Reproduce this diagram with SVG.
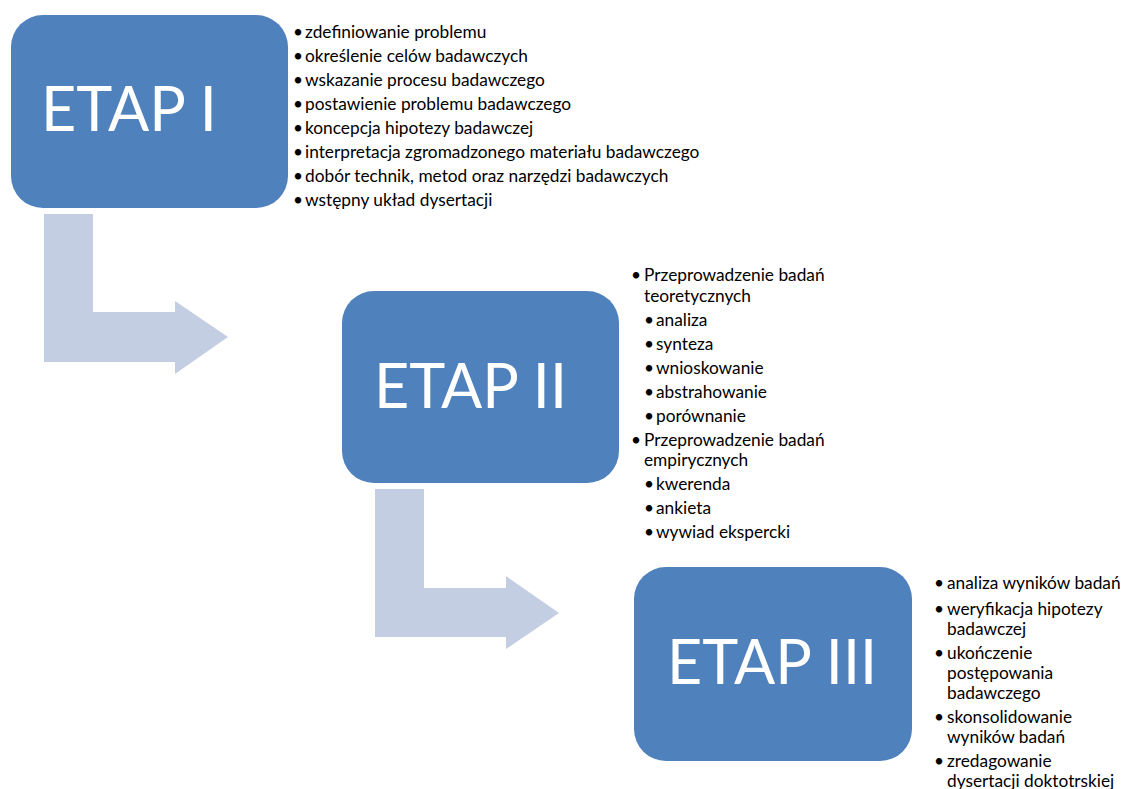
<svg xmlns="http://www.w3.org/2000/svg" width="1123" height="789" viewBox="0 0 1123 789">
<style>
.box{fill:#4F81BD}
.arrow{fill:#C3CEE3}
.title{font-family:Lato,"Liberation Sans",sans-serif;font-size:61px;fill:#fff}
.li{font-family:Lato,"Liberation Sans",sans-serif;font-size:17.3px;fill:#000}
</style>
<rect width="1123" height="789" fill="#fff"/>
<g id="connectors">
<path class="arrow" d="M44 214H93V312H175V301L228 337L175 374V362H44Z"/>
<path class="arrow" d="M375 489H424V588H506V576L559 613L506 649V637H375Z"/>
</g>
<g id="etap1">
<rect class="box" x="11" y="15" width="277" height="193" rx="32"/>
<text class="title" x="41" y="131">ETAP I</text>
<g class="li">
<text x="293" y="38">•</text><text x="305" y="38">zdefiniowanie problemu</text>
<text x="293" y="62">•</text><text x="305" y="62">określenie celów badawczych</text>
<text x="293" y="86">•</text><text x="305" y="86">wskazanie procesu badawczego</text>
<text x="293" y="110">•</text><text x="305" y="110">postawienie problemu badawczego</text>
<text x="293" y="134">•</text><text x="305" y="134">koncepcja hipotezy badawczej</text>
<text x="293" y="158">•</text><text x="305" y="158">interpretacja zgromadzonego materiału badawczego</text>
<text x="293" y="182">•</text><text x="305" y="182">dobór technik, metod oraz narzędzi badawczych</text>
<text x="293" y="206">•</text><text x="305" y="206">wstępny układ dysertacji</text>
</g>
</g>
<g id="etap2">
<rect class="box" x="342" y="291" width="277" height="192" rx="32"/>
<text class="title" x="374" y="408">ETAP II</text>
<g class="li">
<text x="631" y="281">•</text><text x="644" y="281">Przeprowadzenie badań</text>
<text x="644" y="302">teoretycznych</text>
<text x="644" y="326">•</text><text x="656" y="326">analiza</text>
<text x="644" y="350">•</text><text x="656" y="350">synteza</text>
<text x="644" y="374">•</text><text x="656" y="374">wnioskowanie</text>
<text x="644" y="398">•</text><text x="656" y="398">abstrahowanie</text>
<text x="644" y="422">•</text><text x="656" y="422">porównanie</text>
<text x="631" y="446">•</text><text x="644" y="446">Przeprowadzenie badań</text>
<text x="644" y="466">empirycznych</text>
<text x="644" y="490">•</text><text x="656" y="490">kwerenda</text>
<text x="644" y="514">•</text><text x="656" y="514">ankieta</text>
<text x="644" y="538">•</text><text x="656" y="538">wywiad ekspercki</text>
</g>
</g>
<g id="etap3">
<rect class="box" x="634" y="567" width="278" height="194" rx="32"/>
<text class="title" x="667" y="684">ETAP III</text>
<g class="li">
<text x="934" y="589">•</text><text x="947" y="589">analiza wyników badań</text>
<text x="934" y="615">•</text><text x="947" y="615">weryfikacja hipotezy</text>
<text x="947" y="635">badawczej</text>
<text x="934" y="659">•</text><text x="947" y="659">ukończenie</text>
<text x="947" y="679">postępowania</text>
<text x="947" y="699">badawczego</text>
<text x="934" y="723">•</text><text x="947" y="723">skonsolidowanie</text>
<text x="947" y="743">wyników badań</text>
<text x="934" y="767">•</text><text x="947" y="767">zredagowanie</text>
<text x="947" y="787">dysertacji doktotrskiej</text>
</g>
</g>
</svg>
